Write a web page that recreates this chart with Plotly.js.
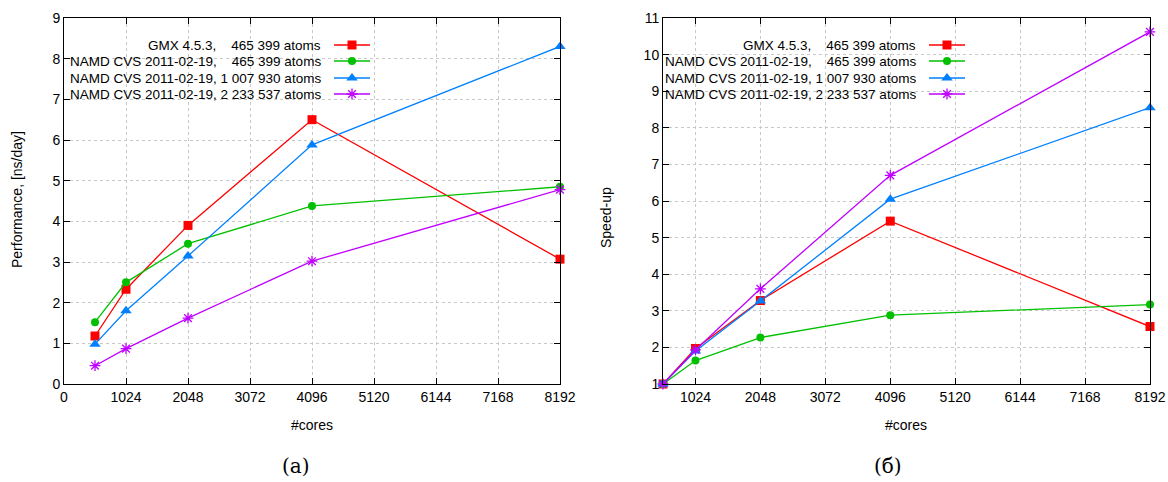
<!DOCTYPE html>
<html>
<head>
<meta charset="utf-8">
<script src="https://cdn.plot.ly/plotly-3.0.1.min.js"></script>
<style>html,body{margin:0;padding:0;background:#fff;}#chart{width:1168px;height:482px;}</style>
</head>
<body>
<div id="chart"></div>
<script>
// ---- data ----
const cores = [512, 1024, 2048, 4096, 8192];
const seriesNames = [
  "GMX 4.5.3,\u00a0\u00a0\u00a0\u00a0465 399 atoms",
  "NAMD CVS 2011-02-19,\u00a0\u00a0\u00a0\u00a0465 399 atoms",
  "NAMD CVS 2011-02-19, 1 007 930 atoms",
  "NAMD CVS 2011-02-19, 2 233 537 atoms"
];
const perfGmx465 = [1.18, 2.33, 3.90, 6.50, 3.07];
const perfNamd465 = [1.52, 2.50, 3.45, 4.38, 4.85];
const perfNamd1M = [0.98, 1.80, 3.15, 5.88, 8.30];
const perfNamd2M = [0.45, 0.87, 1.62, 3.02, 4.78];
const speedGmx465 = [1.00, 1.97, 3.28, 5.45, 2.57];
const speedNamd465 = [1.00, 1.64, 2.27, 2.88, 3.17];
const speedNamd1M = [1.00, 1.90, 3.27, 6.05, 8.55];
const speedNamd2M = [1.00, 1.93, 3.60, 6.70, 10.62];
const xTicksLeft = [0, 1024, 2048, 3072, 4096, 5120, 6144, 7168, 8192];
const xTicksRight = [1024, 2048, 3072, 4096, 5120, 6144, 7168, 8192];
const yTicksLeft = [0,1,2,3,4,5,6,7,8,9];
const yTicksRight = [1,2,3,4,5,6,7,8,9,10,11];

// ---- styles ----
const colors = ["#ff0000", "#00c000", "#0080ff", "#c000ff"];
const symbols = ["square", "circle", "triangle-up", "asterisk-open"];
const msizes = [9, 8, 10, 9];
const W = 1168, H = 482;
const FONT = "Liberation Sans, Arial, sans-serif";

const perf = [perfGmx465, perfNamd465, perfNamd1M, perfNamd2M];
const speed = [speedGmx465, speedNamd465, speedNamd1M, speedNamd2M];

const traces = [];
function mk(i, ys, xa, ya) {
  return {
    x: cores, y: ys, xaxis: xa, yaxis: ya, type: "scatter", mode: "lines+markers",
    name: seriesNames[i], showlegend: false, cliponaxis: false,
    line: {color: colors[i], width: 1.3},
    marker: {symbol: symbols[i], size: msizes[i], color: colors[i],
             line: {color: colors[i], width: symbols[i] === "asterisk-open" ? 1.3 : 0}}
  };
}
for (let i = 0; i < 4; i++) traces.push(mk(i, perf[i], "x", "y"));
for (let i = 0; i < 4; i++) traces.push(mk(i, speed[i], "x2", "y2"));

// custom legend (text then sample, like gnuplot) on an overlay pixel axis
const legendRows = [45, 61, 78, 94];
const annotations = [];
const legendPanels = [
  {textRight: 323, lineX0: 334, lineX1: 370},
  {textRight: 918, lineX0: 929, lineX1: 965}
];
legendPanels.forEach(p => {
  for (let i = 0; i < 4; i++) {
    const yy = legendRows[i];
    traces.push({
      x: [p.lineX0, p.lineX1], y: [yy, yy], xaxis: "x3", yaxis: "y3", type: "scatter",
      mode: "lines", showlegend: false, hoverinfo: "skip",
      line: {color: colors[i], width: 1.3}
    });
    traces.push({
      x: [(p.lineX0 + p.lineX1) / 2], y: [yy], xaxis: "x3", yaxis: "y3", type: "scatter",
      mode: "markers", showlegend: false, hoverinfo: "skip",
      marker: {symbol: symbols[i], size: msizes[i], color: colors[i],
               line: {color: colors[i], width: symbols[i] === "asterisk-open" ? 1.3 : 0}}
    });
    annotations.push({
      xref: "x3", yref: "y3", x: p.textRight, y: yy, xanchor: "right", yanchor: "middle",
      text: seriesNames[i], showarrow: false, font: {family: FONT, size: 13.5, color: "#000"}
    });
  }
});

// axis titles and captions
function ann(x, y, text, opts) {
  annotations.push(Object.assign({xref: "x3", yref: "y3", x: x, y: y, text: text, showarrow: false,
    xanchor: "center", yanchor: "middle", font: {family: FONT, size: 14, color: "#000"}}, opts || {}));
}
ann(312, 425, "#cores");
ann(906, 425, "#cores");
ann(17, 200, "Performance, [ns/day]", {textangle: -90});
ann(606, 218, "Speed-up", {textangle: -90});
ann(296, 466, "(a)", {font: {family: "DejaVu Serif, Liberation Serif, serif", size: 20, color: "#000"}});
ann(888, 466, "(б)", {font: {family: "DejaVu Serif, Liberation Serif, serif", size: 20, color: "#000"}});

const yDom = [(H - 384) / H, (H - 18) / H];
function axisCommon() {
  return {
    showline: true, mirror: "ticks", linecolor: "#000", linewidth: 1,
    ticks: "inside", ticklen: 6, tickcolor: "#000", tickwidth: 1,
    showgrid: true, gridcolor: "#c8c8c8", griddash: "dot", gridwidth: 1,
    zeroline: false, tickfont: {family: FONT, size: 14, color: "#000"}, fixedrange: true
  };
}
const layout = {
  width: W, height: H, margin: {l: 0, r: 0, t: 0, b: 0},
  paper_bgcolor: "#fff", plot_bgcolor: "rgba(0,0,0,0)", showlegend: false,
  xaxis: Object.assign(axisCommon(), {domain: [64 / W, 560 / W], range: [0, 8192],
    tickmode: "array", tickvals: xTicksLeft, ticktext: xTicksLeft.map(String), anchor: "y"}),
  yaxis: Object.assign(axisCommon(), {domain: yDom, range: [0, 9],
    tickmode: "array", tickvals: yTicksLeft, ticktext: yTicksLeft.map(String), anchor: "x"}),
  xaxis2: Object.assign(axisCommon(), {domain: [663 / W, 1150 / W], range: [512, 8192],
    tickmode: "array", tickvals: xTicksRight, ticktext: xTicksRight.map(String), anchor: "y2"}),
  yaxis2: Object.assign(axisCommon(), {domain: yDom, range: [1, 11],
    tickmode: "array", tickvals: yTicksRight, ticktext: yTicksRight.map(String), anchor: "x2"}),
  xaxis3: {domain: [0, 1], range: [0, W], visible: false, fixedrange: true, anchor: "y3", showgrid: false},
  yaxis3: {domain: [0, 1], range: [H, 0], visible: false, fixedrange: true, anchor: "x3", showgrid: false},
  annotations: annotations
};
Plotly.newPlot("chart", traces, layout, {displayModeBar: false, staticPlot: true});
</script>
</body>
</html>
